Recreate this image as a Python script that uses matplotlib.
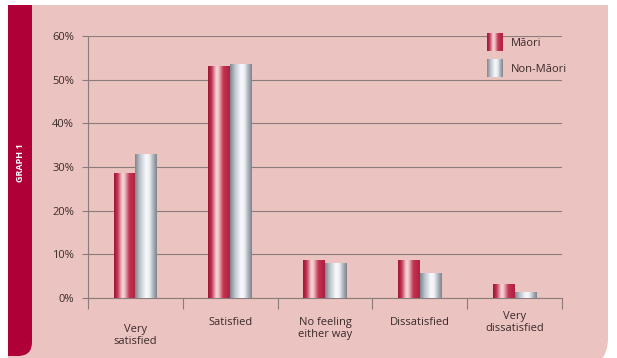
import numpy as np
import matplotlib
matplotlib.use('Agg')
import matplotlib.pyplot as plt
from matplotlib.colors import LinearSegmentedColormap
from matplotlib.patches import FancyBboxPatch, Rectangle

categories = ['Very\nsatisfied', 'Satisfied', 'No feeling\neither way', 'Dissatisfied', 'Very\ndissatisfied']
maori = [28.5, 53.0, 8.5, 8.5, 3.0]
non_maori = [32.8, 53.5, 7.9, 5.5, 1.2]
series_names = ['M\u0101ori', 'Non-M\u0101ori']
yticks = [0, 10, 20, 30, 40, 50, 60]

plt.rcParams['font.family'] = ['Open Sans', 'DejaVu Sans']

bg = '#ebc3c0'
red = '#b00038'
grid_c = '#8c7b7b'
text_c = '#3a2a2a'

# cylinder style shading across each bar
red_cmap = LinearSegmentedColormap.from_list('red', [
    (0.0, '#9e1536'), (0.15, '#c0304f'), (0.38, '#f4d6d8'),
    (0.48, '#f0c8cc'), (0.7, '#c23451'), (1.0, '#b0203f')])
grey_cmap = LinearSegmentedColormap.from_list('grey', [
    (0.0, '#7d858f'), (0.2, '#b9c0c8'), (0.5, '#f8fafc'),
    (0.65, '#eef1f4'), (0.85, '#a9b0b8'), (1.0, '#7c838b')])

fig = plt.figure(figsize=(6.17, 3.58), dpi=100)
fig.patch.set_facecolor('white')

W, H = 617.0, 358.0


def fig_rect(x0, y0, x1, y1, color, rounded=0):
    # pixel coords, y measured from the top
    kw = dict(transform=fig.transFigure, facecolor=color, edgecolor='none', zorder=-5)
    if rounded:
        p = FancyBboxPatch((x0 / W, 1 - y1 / H), (x1 - x0) / W, (y1 - y0) / H,
                           boxstyle=f'round,pad=0,rounding_size={rounded / W}',
                           mutation_aspect=W / H, **kw)
    else:
        p = Rectangle((x0 / W, 1 - y1 / H), (x1 - x0) / W, (y1 - y0) / H, **kw)
    fig.patches.append(p)


# pink panel, rounded only at the bottom right
fig_rect(8, 5, 608, 200, bg)
fig_rect(8, 100, 608, 368, bg, rounded=30)
fig_rect(8, 100, 100, 368, bg)
# red side strip, rounded at its bottom right
fig_rect(8, 5, 32, 340, red)
fig_rect(8, 200, 32, 356, red, rounded=14)
fig_rect(8, 200, 20, 356, red)
fig.text(21 / W, 1 - 163 / H, 'GRAPH 1', rotation=90, color='white', fontsize=6.5,
         fontweight='bold', ha='center', va='center')

ax = fig.add_axes([88 / W, 1 - 298 / H, (562 - 88) / W, (298 - 36) / H])
ax.set_facecolor('none')

x = np.arange(len(categories))
bw = 0.23
b1 = ax.bar(x - bw / 2, maori, bw, color='none', edgecolor='none')
b2 = ax.bar(x + bw / 2, non_maori, bw, color='none', edgecolor='none')
grad = np.linspace(0, 1, 64).reshape(1, -1)
for bars, cmap in [(b1, red_cmap), (b2, grey_cmap)]:
    for r in bars:
        x0, w, h = r.get_x(), r.get_width(), r.get_height()
        ax.imshow(grad, cmap=cmap, aspect='auto', extent=(x0, x0 + w, 0, h),
                  interpolation='bicubic', zorder=3)

ax.set_xlim(-0.5, len(categories) - 0.5)
ax.set_ylim(0, 60)
ax.set_yticks(yticks)
ax.set_yticklabels([f'{t}%' for t in yticks], color=text_c, fontsize=8)
ax.yaxis.grid(True, color=grid_c, linewidth=0.8)
ax.set_axisbelow(True)
ax.tick_params(axis='y', length=4, color=grid_c, width=0.8, pad=6)
ax.set_xticks(np.arange(len(categories) + 1) - 0.5)
ax.set_xticklabels([])
ax.tick_params(axis='x', length=8, color=grid_c, width=0.8)
for s in ['top', 'right']:
    ax.spines[s].set_visible(False)
for s in ['left', 'bottom']:
    ax.spines[s].set_color(grid_c)
    ax.spines[s].set_linewidth(0.8)

label_y = [-8.5, -5.5, -7.0, -5.5, -5.6]
for i, lab in enumerate(categories):
    ax.text(i, label_y[i], lab, ha='center', va='center', fontsize=8,
            color=text_c, linespacing=1.15, clip_on=False)

# legend
for k, (name, cmap) in enumerate(zip(series_names, [red_cmap, grey_cmap])):
    top = 33 + k * 26
    lax = fig.add_axes([487 / W, 1 - (top + 18) / H, 16 / W, 18 / H])
    lax.imshow(grad, cmap=cmap, aspect='auto', interpolation='bicubic')
    lax.axis('off')
    fig.text(511 / W, 1 - (top + 10) / H, name, fontsize=8, color=text_c,
             va='center', ha='left')

fig.savefig('out.png', dpi=100, facecolor='white')
